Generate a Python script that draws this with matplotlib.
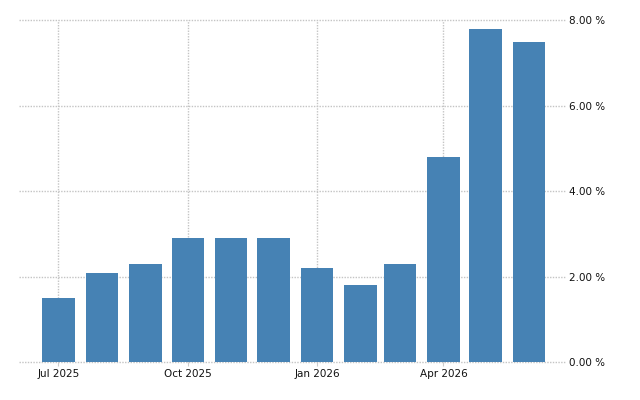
#plot.py

import datetime as dt
import matplotlib
matplotlib.use("Agg")
import matplotlib.pyplot as plt
from matplotlib.ticker import FuncFormatter

months = [dt.date(2025, m, 1) for m in range(7, 13)] + [dt.date(2026, m, 1) for m in range(1, 7)]
values = [1.5, 2.1, 2.3, 2.9, 2.9, 2.9, 2.2, 1.8, 2.3, 4.8, 7.8, 7.5]
tick_dates = [dt.date(2025, 7, 1), dt.date(2025, 10, 1), dt.date(2026, 1, 1), dt.date(2026, 4, 1)]
tick_labels = ["Jul 2025", "Oct 2025", "Jan 2026", "Apr 2026"]
y_ticks = [0, 2, 4, 6, 8]

fig = plt.figure(figsize=(6.4, 4), dpi=100)
ax = fig.add_axes([0.0297, 0.094, 0.8543, 0.855])

ax.bar(months, values, width=23, color="#4682b4", zorder=2)

ax.set_xlim(dt.date(2025, 6, 3), dt.date(2026, 6, 27))
ax.set_ylim(0, 8)

ax.set_xticks(tick_dates)
ax.set_xticklabels(tick_labels)
ax.set_yticks(y_ticks)
ax.yaxis.set_major_formatter(FuncFormatter(lambda v, p: "%.2f %%" % v))
ax.yaxis.tick_right()

for s in ax.spines.values():
    s.set_visible(False)

ax.grid(True, color="#c4c4c4", linestyle=(0, (1, 1)), linewidth=1.0, zorder=0)
for gl in ax.get_xgridlines() + ax.get_ygridlines():
    gl.set_clip_on(False)
ax.tick_params(axis="y", length=0, pad=2, labelsize=7.5, labelcolor="#111111")
ax.tick_params(axis="x", length=3, width=0.8, color="#cccccc", pad=2,
               labelsize=7.5, labelcolor="#111111")

fig.savefig("out.png", dpi=100)
